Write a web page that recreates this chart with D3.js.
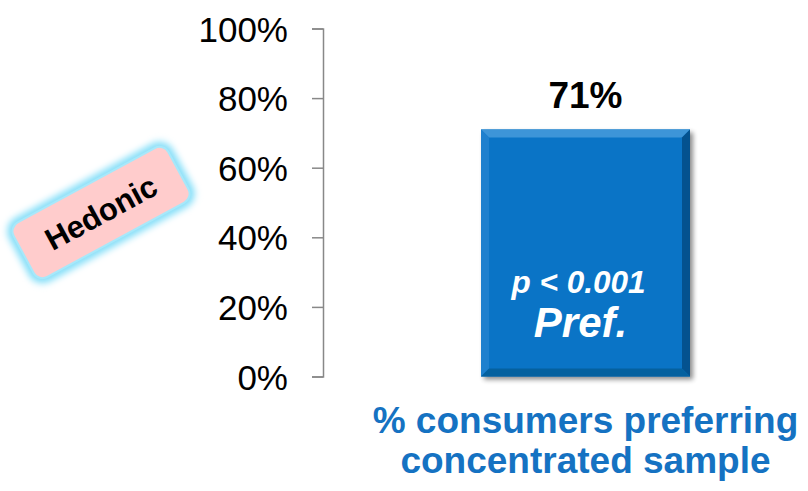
<!DOCTYPE html>
<html><head><meta charset="utf-8">
<script src="https://cdn.jsdelivr.net/npm/d3@7"></script>
<style>body{margin:0;background:#fff}svg{display:block}text{font-family:"Liberation Sans",Arial,sans-serif}</style>
</head><body>
<svg id="c" width="808" height="491"></svg>
<script>
const categories = ["Concentrated"];
const values = [0.71];
const valueLabels = ["71%"];
const tickValues = [0, 0.2, 0.4, 0.6, 0.8, 1.0];
const xLabelLines = ["% consumers preferring", "concentrated sample"];
const barTextLines = ["p < 0.001", "Pref."];
const badgeText = "Hedonic";

const svg = d3.select("#c");
const defs = svg.append("defs");
const glow = defs.append("filter").attr("id","glow").attr("x","-30%").attr("y","-50%").attr("width","160%").attr("height","200%");
glow.append("feGaussianBlur").attr("stdDeviation",3.5);
const sh = defs.append("filter").attr("id","sh").attr("x","-20%").attr("y","-20%").attr("width","140%").attr("height","140%");
sh.append("feGaussianBlur").attr("stdDeviation",2.5);

const y = d3.scaleLinear().domain([0,1]).range([376.5, 28.5]);
const xb = d3.scaleBand().domain(categories).range([428.75, 742.25]).padding(0.2);

// axis
const ax = svg.append("g").attr("transform","translate(323,0)")
  .call(d3.axisLeft(y).tickValues(tickValues).tickSize(11).tickPadding(24).tickFormat(d3.format(".0%")));
ax.select(".domain").attr("stroke","#888").attr("stroke-width",1.5);
ax.selectAll(".tick line").attr("stroke","#888").attr("stroke-width",1.5);
ax.selectAll(".tick text").attr("font-size",35).attr("fill","#000").attr("dy","0.36em")
  .style("font-family","'Liberation Sans',Arial,sans-serif");

// bars
const bw = xb.bandwidth();
categories.forEach((c,i)=>{
  const x0 = xb(c), x1 = x0+bw, y0 = y(values[i]), y1 = y(0), b = 8;
  const g = svg.append("g");
  g.append("rect").attr("x",x0+3).attr("y",y0+3).attr("width",bw).attr("height",y1-y0)
    .attr("fill","#000").attr("opacity",0.45).attr("filter","url(#sh)");
  g.append("rect").attr("x",x0).attr("y",y0).attr("width",bw).attr("height",y1-y0).attr("fill","#0A74C6");
  const poly = (pts,fill)=>g.append("polygon").attr("points",pts.map(p=>p.join(",")).join(" ")).attr("fill",fill);
  poly([[x0,y0],[x1,y0],[x1-b,y0+b],[x0+b,y0+b]],"#3D95D8");
  poly([[x0,y0],[x0+b,y0+b],[x0+b,y1-b],[x0,y1]],"#1E80CE");
  poly([[x1,y0],[x1,y1],[x1-b,y1-b],[x1-b,y0+b]],"#04528F");
  poly([[x0,y1],[x1,y1],[x1-b,y1-b],[x0+b,y1-b]],"#05619F");
  const cx = x0+bw/2;
  svg.append("text").attr("x",cx).attr("y",y0-21).attr("text-anchor","middle")
    .attr("font-size",37).attr("font-weight","bold").attr("fill","#000").text(valueLabels[i]);
  svg.append("text").attr("x",cx-7).attr("y",293).attr("text-anchor","middle")
    .attr("font-size",31.5).attr("font-weight","bold").attr("font-style","italic").attr("fill","#fff").text(barTextLines[0]);
  svg.append("text").attr("x",cx-5).attr("y",337).attr("text-anchor","middle")
    .attr("font-size",42).attr("font-weight","bold").attr("font-style","italic").attr("fill","#fff").text(barTextLines[1]);
  xLabelLines.forEach((t,k)=>{
    svg.append("text").attr("x",cx).attr("y",433+k*40).attr("text-anchor","middle")
      .attr("font-size",37).attr("font-weight","bold").attr("fill","#1572C2").text(t);
  });
});

// badge
const bg = svg.append("g").attr("transform","translate(101,212.5) rotate(-28.5)");
bg.append("rect").attr("x",-88).attr("y",-31).attr("width",176).attr("height",62).attr("rx",10)
  .attr("fill","none").attr("stroke","#7FDDF8").attr("stroke-width",10).attr("filter","url(#glow)");
bg.append("rect").attr("x",-88).attr("y",-31).attr("width",176).attr("height",62).attr("rx",10)
  .attr("fill","#FFCCCC").attr("stroke","#A8E8FA").attr("stroke-width",2);
bg.append("text").attr("x",0).attr("y",11).attr("text-anchor","middle").attr("font-size",31)
  .attr("font-weight","bold").attr("fill","#000").text(badgeText);
</script>
</body></html>
